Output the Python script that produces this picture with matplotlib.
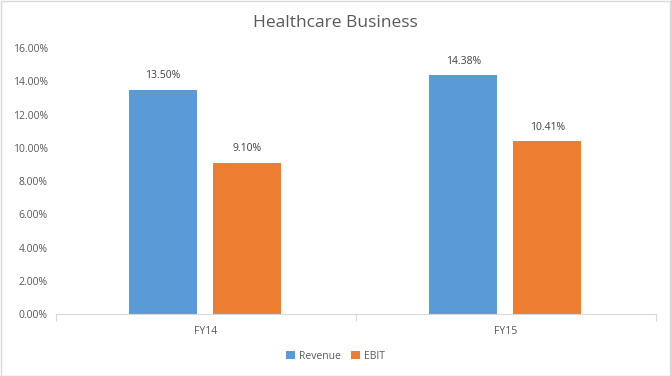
import numpy as np
import matplotlib
matplotlib.use("Agg")
import matplotlib.pyplot as plt
from matplotlib.patches import Rectangle
from matplotlib.ticker import FuncFormatter

categories = ["FY14", "FY15"]
series_names = ["Revenue", "EBIT"]
revenue = [13.50, 14.38]
ebit = [9.10, 10.41]
colors = ["#5B9BD5", "#ED7D31"]

plt.rcParams["font.family"] = ["Open Sans", "DejaVu Sans"]
text_color = "#595959"

fig = plt.figure(figsize=(6.71, 3.76), dpi=100)
ax = fig.add_axes([0.0835, 0.1649, 0.8941, 0.7074])

x = np.arange(len(categories))
width = 0.227
offsets = [-0.143, 0.138]
for vals, off, col, name in zip([revenue, ebit], offsets, colors, series_names):
    bars = ax.bar(x + off, vals, width, color=col, label=name, zorder=2)
    for b, v in zip(bars, vals):
        ax.annotate(f"{v:.2f}%", (b.get_x() + b.get_width() / 2, v),
                    textcoords="offset points", xytext=(0, 6),
                    ha="center", va="bottom", fontsize=7.5, color="#404040")

ax.set_xlim(-0.5, 1.5)
ax.set_ylim(0, 16)
ax.set_yticks(np.arange(0, 17, 2))
ax.yaxis.set_major_formatter(FuncFormatter(lambda v, _: f"{v:.2f}%"))
ax.tick_params(axis="y", length=0, labelsize=7.5, labelcolor=text_color, pad=6)

ax.set_xticks([-0.5, 0.5, 1.5])
ax.set_xticklabels([])
ax.tick_params(axis="x", which="major", length=5, color="#d9d9d9", direction="out")
ax.set_xticks(x, minor=True)
ax.set_xticklabels(categories, minor=True)
ax.tick_params(axis="x", which="minor", length=0, labelsize=7.5, labelcolor=text_color, pad=9)

for side in ["top", "right", "left"]:
    ax.spines[side].set_visible(False)
ax.spines["bottom"].set_color("#d9d9d9")

fig.text(0.5, 0.94, "Healthcare Business", ha="center", va="center",
         fontsize=12.5, color=text_color)

fig.legend(loc="center", bbox_to_anchor=(0.5, 0.053), ncol=2, frameon=False,
           fontsize=7.5, handlelength=0.8, handleheight=0.8, handletextpad=0.4,
           columnspacing=1.0, labelcolor=text_color)

fig.add_artist(Rectangle((0.001, 0.001), 0.997, 0.996, transform=fig.transFigure,
                         fill=False, edgecolor="#d9d9d9", lw=1))

fig.savefig("out.png", dpi=100)
